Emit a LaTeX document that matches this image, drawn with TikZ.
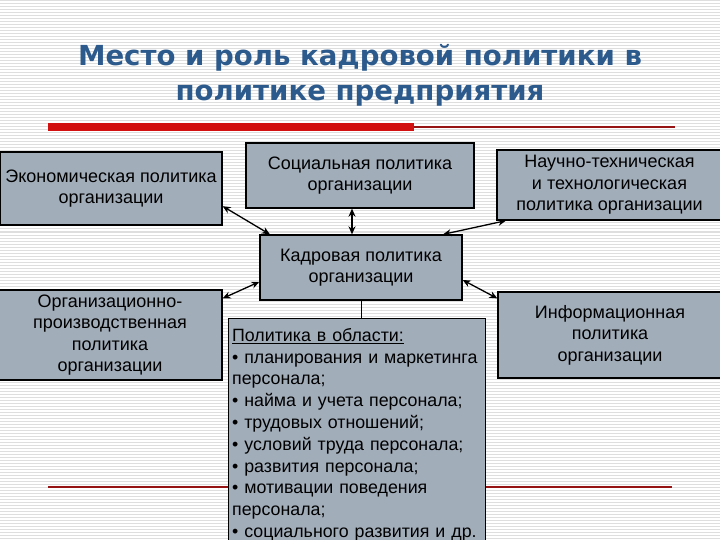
\documentclass[tikz,border=0pt]{standalone}
\usepackage{fontspec}
\setmainfont{Liberation Sans}
\newfontfamily\titlefont{DejaVu Sans}
\usetikzlibrary{arrows.meta}
\definecolor{myblue}{RGB}{44,90,140}
\definecolor{mygray}{RGB}{162,173,186}
\definecolor{myred}{RGB}{210,16,16}
\definecolor{mydarkred}{RGB}{150,20,20}
\definecolor{mystripe}{RGB}{222,222,222}

\begin{document}
\begin{tikzpicture}[x=1pt, y=-1pt,
  polbox/.style={draw, line width=1.3pt, fill=mygray, inner sep=0pt, align=center,
    font=\fontsize{18}{21.5}\selectfont},
  link/.style={line width=1.3pt, {Stealth[length=8pt,width=7pt]}-{Stealth[length=8pt,width=7pt]}}]
\useasboundingbox (0,0) rectangle (720,540);
\clip (0,0) rectangle (720,540);
% Background stripes
\foreach \y in {1,4,...,540}
  \draw[mystripe, line width=1pt] (0,\y) -- (720,\y);
% Title
\node[font=\titlefont\bfseries\fontsize{27.6}{35}\selectfont, text=myblue, align=center] (title) at (360,75)
  {Место и роль кадровой политики в\\политике предприятия};
% Decorative lines
\fill[myred] (48,123) rectangle (414,131);
\draw[mydarkred, line width=1.2pt] (414,127) -- (675,127);
\draw[mydarkred, line width=1.2pt] (48,487) -- (672,487);
% Create nodes for the kinds of policy
\node[polbox, minimum width=222pt, minimum height=73pt] (econ) at (111,188.5)
  {Экономическая политика\\организации};
\node[polbox, minimum width=228pt, minimum height=65pt] (soc) at (360,175.5)
  {Социальная политика\\организации};
\node[polbox, minimum width=225pt, minimum height=70pt] (nauch) at (609.5,185)
  {Научно-техническая\\и технологическая\\политика организации};
\node[polbox, minimum width=202pt, minimum height=65pt] (kadr) at (361,267.5)
  {Кадровая политика\\организации};
\node[polbox, minimum width=224pt, minimum height=90pt] (org) at (110,335)
  {Организационно-\\производственная\\политика\\организации};
\node[polbox, minimum width=224pt, minimum height=86pt] (info) at (610,335)
  {Информационная\\политика\\организации};
\node[polbox, align=left, anchor=north west, text width=250pt, inner xsep=3.5pt, inner ysep=1pt,
  minimum height=232pt, font=\fontsize{17.8}{21.8}\selectfont] (spheres) at (228,318)
  {\underline{Политика в области:}\\
   • планирования и маркетинга\\
   персонала;\\
   • найма и учета персонала;\\
   • трудовых отношений;\\
   • условий труда персонала;\\
   • развития персонала;\\
   • мотивации поведения\\
   персонала;\\
   • социального развития и др.};

% Connections
\draw[link] (econ.-9.5) -- (kadr.160);
\draw[link] ([xshift=-8pt]soc.south) -- ([xshift=-8pt]soc.south |- kadr.north);
\draw[link] (nauch.199.6) -- (kadr.22);
\draw[link] (kadr.188) -- (org.18);
\draw[link] (kadr.-7) -- (info.162.5);
\draw[line width=0.8pt] (kadr.south) -- (kadr.south |- spheres.north);
\end{tikzpicture}
\end{document}
